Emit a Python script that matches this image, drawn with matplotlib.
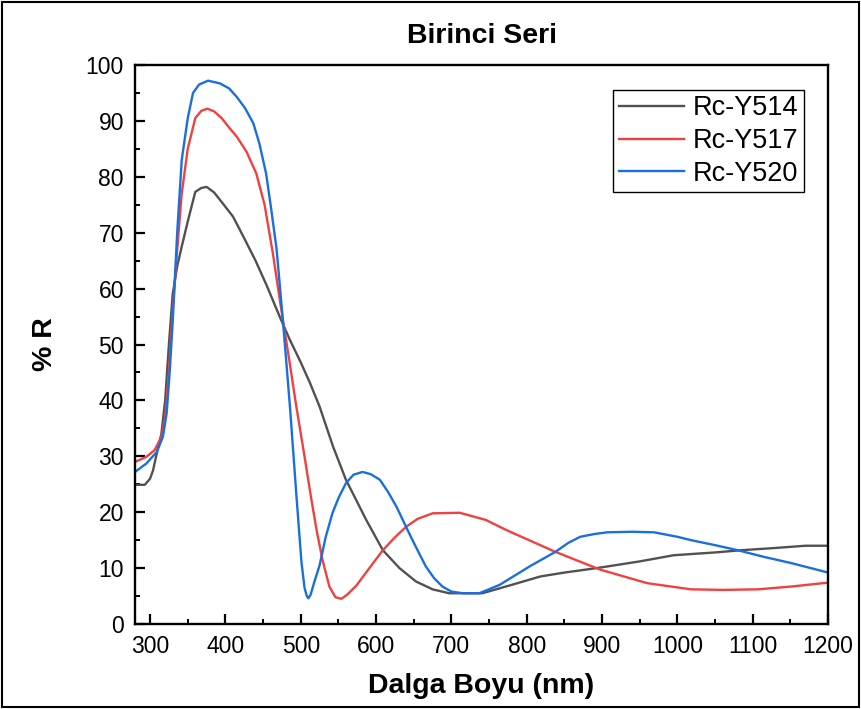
import matplotlib.pyplot as plt
from matplotlib.patches import Rectangle
from matplotlib.ticker import MultipleLocator

plt.rcParams["font.family"] = ["Liberation Sans", "DejaVu Sans"]

# wavelength (nm) / reflectance (%)
wl_514 = [280, 293, 300, 304, 309, 315, 320, 325, 330, 336, 342, 350, 360, 368,
          375, 385, 395, 410, 425, 440, 455, 472, 485, 500, 512, 525, 543, 560,
          587, 609, 631, 653, 675, 697, 741, 780, 818, 850, 893, 950, 995, 1050,
          1085, 1130, 1170, 1200]
r_514 = [24.9, 24.9, 26.0, 27.5, 30.6, 34.0, 40.0, 50.0, 59.0, 64.0, 67.5, 72.0,
         77.3, 78.0, 78.2, 77.2, 75.5, 72.9, 69.0, 65.0, 60.5, 55.0, 51.0, 46.8,
         43.2, 38.9, 31.7, 25.8, 18.6, 13.2, 10.0, 7.6, 6.2, 5.5, 5.5, 7.0, 8.5,
         9.2, 10.0, 11.2, 12.3, 12.8, 13.2, 13.6, 14.0, 14.0]

wl_517 = [280, 295, 306, 315, 320, 325, 330, 336, 342, 350, 360, 368, 376, 385,
          395, 405, 415, 428, 441, 452, 463, 470, 477, 485, 494, 505, 512, 521,
          529, 538, 546, 554, 562, 574, 590, 609, 625, 640, 655, 675, 711, 746,
          773, 838, 898, 960, 1018, 1060, 1107, 1151, 1200]
r_517 = [29.0, 29.9, 31.1, 33.5, 37.0, 45.0, 56.0, 67.0, 77.0, 85.0, 90.5, 91.8,
         92.2, 91.7, 90.5, 88.8, 87.2, 84.5, 80.6, 75.0, 66.3, 60.0, 53.8, 47.0,
         39.0, 30.0, 24.0, 16.8, 11.4, 6.7, 4.8, 4.5, 5.3, 6.9, 9.8, 13.2, 15.5,
         17.4, 18.8, 19.8, 19.9, 18.6, 16.8, 12.9, 9.7, 7.3, 6.2, 6.1, 6.2, 6.7,
         7.4]

wl_520 = [280, 295, 309, 317, 322, 326, 330, 336, 342, 350, 357, 365, 377, 393,
          405, 415, 426, 437, 445, 454, 461, 468, 477, 486, 494, 501, 505, 508,
          510, 513, 518, 525, 533, 542, 550, 560, 570, 582, 593, 605, 616, 627,
          644, 655, 666, 677, 688, 700, 715, 737, 764, 805, 838, 855, 871, 890,
          907, 940, 969, 1000, 1018, 1050, 1080, 1115, 1151, 1200]
r_520 = [27.2, 28.7, 30.8, 33.5, 37.7, 45.0, 54.0, 70.0, 83.0, 90.5, 95.0, 96.5,
         97.2, 96.7, 95.8, 94.3, 92.3, 89.6, 86.0, 80.6, 74.0, 67.0, 53.2, 38.3,
         23.4, 11.0, 6.5, 5.0, 4.6, 5.2, 7.5, 10.5, 15.5, 19.8, 22.5, 25.2, 26.7,
         27.2, 26.8, 25.8, 23.6, 21.0, 16.2, 13.2, 10.3, 8.2, 6.7, 5.8, 5.5, 5.5,
         7.0, 10.4, 12.9, 14.5, 15.6, 16.1, 16.4, 16.5, 16.4, 15.6, 15.0, 14.1,
         13.2, 12.0, 10.9, 9.2]

labels = ["Rc-Y514", "Rc-Y517", "Rc-Y520"]
colors = ["#515151", "#F14040", "#1A6FDF"]

fig = plt.figure(figsize=(8.61, 7.09), dpi=100)
ax = fig.add_axes([0.1568, 0.1199, 0.805, 0.7884])

for wl, r, lab, col in zip([wl_514, wl_517, wl_520], [r_514, r_517, r_520], labels, colors):
    ax.plot(wl, r, color=col, lw=1.7, label=lab)

ax.set_xlim(280, 1200)
ax.set_ylim(0, 100)
ax.xaxis.set_major_locator(MultipleLocator(100))
ax.xaxis.set_minor_locator(MultipleLocator(50))
ax.yaxis.set_major_locator(MultipleLocator(10))
ax.yaxis.set_minor_locator(MultipleLocator(5))
ax.tick_params(which="major", direction="in", length=7, width=1.6, labelsize=16.5, pad=8)
ax.tick_params(which="minor", direction="in", length=3.5, width=1.4)
for sp in ax.spines.values():
    sp.set_linewidth(1.7)

ax.set_title("Birinci Seri", fontsize=20.5, fontweight="bold", pad=16)
ax.set_xlabel("Dalga Boyu (nm)", fontsize=20.5, fontweight="bold", labelpad=11)
ax.set_ylabel("% R", fontsize=20.5, fontweight="bold", labelpad=20)

leg = ax.legend(loc="upper right", bbox_to_anchor=(0.9654, 0.9553), borderaxespad=0,
                fontsize=19.5, fancybox=False, edgecolor="black", framealpha=1,
                handlelength=2.4, handletextpad=0.35, borderpad=0.2,
                labelspacing=0.25)
leg.get_frame().set_linewidth(1.0)

fig.patches.append(Rectangle((0.002, 0.003), 0.996, 0.994, transform=fig.transFigure,
                             fill=False, edgecolor="black", linewidth=1.5))

fig.savefig("out.png", dpi=100)
